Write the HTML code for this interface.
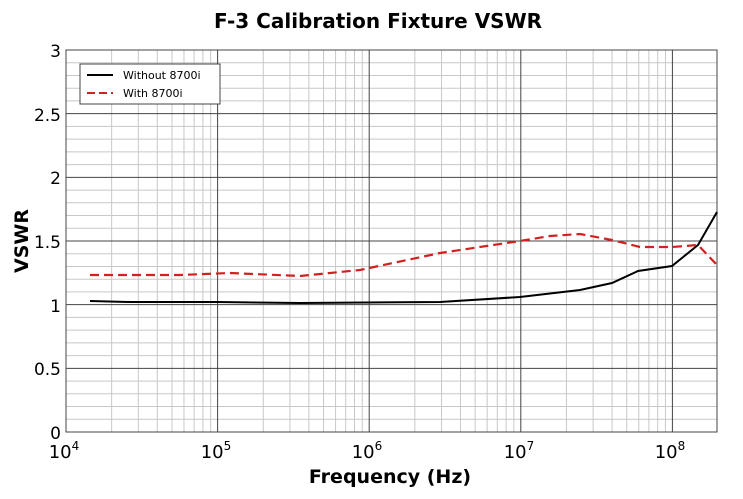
<!DOCTYPE html>
<html><head><style>body{margin:0;background:#fff}svg{display:block}text{font-family:"DejaVu Sans","Liberation Sans",sans-serif}</style></head><body>
<svg width="743" height="499" xmlns="http://www.w3.org/2000/svg">
<rect width="743" height="499" fill="#fff"/>
<path stroke="#c8c8c8" stroke-width="1" fill="none" d="M66 419.27H717M66 406.53H717M66 393.8H717M66 381.07H717M66 355.6H717M66 342.87H717M66 330.13H717M66 317.4H717M66 291.93H717M66 279.2H717M66 266.47H717M66 253.73H717M66 228.27H717M66 215.53H717M66 202.8H717M66 190.07H717M66 164.6H717M66 151.87H717M66 139.13H717M66 126.4H717M66 100.93H717M66 88.2H717M66 75.47H717M66 62.73H717
M111.64 50V432M138.33 50V432M157.27 50V432M171.96 50V432M183.97 50V432M194.11 50V432M202.91 50V432M210.66 50V432
M263.24 50V432M289.93 50V432M308.87 50V432M323.56 50V432M335.57 50V432M345.71 50V432M354.51 50V432M362.26 50V432
M414.84 50V432M441.53 50V432M460.47 50V432M475.16 50V432M487.17 50V432M497.31 50V432M506.11 50V432M513.86 50V432
M566.44 50V432M593.13 50V432M612.07 50V432M626.76 50V432M638.77 50V432M648.91 50V432M657.71 50V432M665.46 50V432"/>
<path stroke="#444" stroke-width="1" fill="none" d="M66 368.33H717M66 304.67H717M66 241H717M66 177.33H717M66 113.67H717M217.6 50V432M369.2 50V432M520.8 50V432M672.4 50V432"/>
<rect x="66" y="50" width="651" height="382" fill="none" stroke="#444" stroke-width="1"/>
<polyline fill="none" stroke="#000" stroke-width="2" points="90,301 130,302 217,302 300,303 440,302 520,297 580,290 612,283 638,271 672,266 698,245 717,212"/>
<polyline fill="none" stroke="#d42020" stroke-width="2.2" stroke-dasharray="9,5" points="90,275 180,275 230,273 300,276 360,270 440,253 520,241 550,236 580,234 612,240 640,247 672,247 698,245 717,265"/>
<rect x="80" y="64" width="140" height="40" fill="#fff" stroke="#444"/>
<line x1="87" x2="113" y1="75" y2="75" stroke="#000" stroke-width="2"/>
<line x1="87" x2="113" y1="93" y2="93" stroke="#d42020" stroke-width="2" stroke-dasharray="8,4"/>
<text x="123" y="79" font-size="11">Without 8700i</text>
<text x="123" y="97" font-size="11">With 8700i</text>
<g font-size="17" text-anchor="end">
<text x="61" y="57">3</text><text x="61" y="121">2.5</text><text x="61" y="184">2</text><text x="61" y="248">1.5</text><text x="61" y="312">1</text><text x="61" y="375">0.5</text><text x="61" y="439">0</text>
</g>
<g font-size="18" text-anchor="middle">
<text x="64" y="458">10<tspan font-size="12" dy="-8">4</tspan></text>
<text x="216" y="458">10<tspan font-size="12" dy="-8">5</tspan></text>
<text x="367" y="458">10<tspan font-size="12" dy="-8">6</tspan></text>
<text x="519" y="458">10<tspan font-size="12" dy="-8">7</tspan></text>
<text x="670" y="458">10<tspan font-size="12" dy="-8">8</tspan></text>
</g>
<text x="378" y="28" font-size="20" font-weight="bold" text-anchor="middle">F-3 Calibration Fixture VSWR</text>
<text x="390" y="483" font-size="19" font-weight="bold" text-anchor="middle">Frequency (Hz)</text>
<text transform="translate(28,241) rotate(-90)" font-size="19" font-weight="bold" text-anchor="middle">VSWR</text>
</svg>
</body></html>
